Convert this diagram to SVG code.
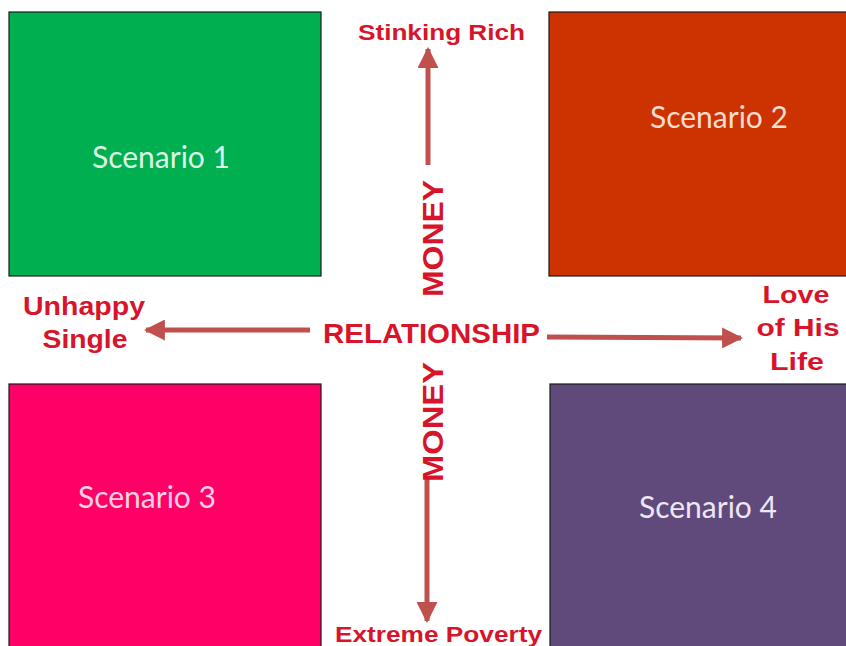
<svg xmlns="http://www.w3.org/2000/svg" width="846" height="646" viewBox="0 0 846 646">
  <style>
    .box { stroke: #1a1a1a; stroke-width: 1.2; }
    .scen { font-family: Lato, "Open Sans", "Liberation Sans", sans-serif; font-size: 30px; text-anchor: middle; }
    .lbl { font-family: "Liberation Sans", Arial, sans-serif; font-weight: bold; fill: #D8142A; text-anchor: middle; }
    .axis { stroke: #C0504D; stroke-width: 5; fill: none; }
  </style>
  <defs>
    <marker id="head" viewBox="0 0 10 10" refX="9" refY="5" markerWidth="4.2" markerHeight="4.2" orient="auto" markerUnits="strokeWidth">
      <path d="M0,0 L10,5 L0,10 Z" fill="#C0504D"/>
    </marker>
  </defs>
  <rect width="846" height="646" fill="#ffffff"/>

  <!-- quadrant boxes -->
  <g id="scenario1">
    <rect class="box" x="9" y="12" width="312" height="264" fill="#00B050"/>
    <text class="scen" x="161" y="168" fill="#DDF5E6">Scenario 1</text>
  </g>
  <g id="scenario2">
    <rect class="box" x="549" y="12" width="300" height="264" fill="#CC3300"/>
    <text class="scen" x="719" y="128" fill="#F8DCCF">Scenario 2</text>
  </g>
  <g id="scenario3">
    <rect class="box" x="9" y="384" width="312" height="266" fill="#FF0066"/>
    <text class="scen" x="147" y="508" fill="#FCD2E4">Scenario 3</text>
  </g>
  <g id="scenario4">
    <rect class="box" x="550" y="384" width="300" height="266" fill="#604A7B"/>
    <text class="scen" x="708" y="518" fill="#EDE6F4">Scenario 4</text>
  </g>

  <!-- axes -->
  <g id="connectors">
    <line class="axis" x1="428" y1="165" x2="428" y2="49" marker-end="url(#head)"/>
    <line class="axis" x1="427" y1="478" x2="427" y2="621" marker-end="url(#head)"/>
    <line class="axis" x1="310" y1="330" x2="146" y2="330" marker-end="url(#head)"/>
    <line class="axis" x1="547" y1="337" x2="741" y2="338" marker-end="url(#head)"/>
  </g>

  <!-- axis labels -->
  <g id="center">
    <text class="lbl" x="431.5" y="343" font-size="28" textLength="217" lengthAdjust="spacingAndGlyphs">RELATIONSHIP</text>
    <text class="lbl" font-size="29" transform="translate(443,238.5) rotate(-90)" textLength="117" lengthAdjust="spacingAndGlyphs">MONEY</text>
    <text class="lbl" font-size="29" transform="translate(443,422) rotate(-90)" textLength="120" lengthAdjust="spacingAndGlyphs">MONEY</text>
  </g>
  <g id="top-label">
    <text class="lbl" x="441.5" y="40" font-size="22" textLength="167" lengthAdjust="spacingAndGlyphs">Stinking Rich</text>
  </g>
  <g id="bottom-label">
    <text class="lbl" x="438.5" y="642" font-size="22" textLength="207" lengthAdjust="spacingAndGlyphs">Extreme Poverty</text>
  </g>
  <g id="left-label">
    <text class="lbl" x="84" y="315" font-size="25" textLength="122" lengthAdjust="spacingAndGlyphs">Unhappy</text>
    <text class="lbl" x="85" y="348" font-size="25" textLength="85" lengthAdjust="spacingAndGlyphs">Single</text>
  </g>
  <g id="right-label">
    <text class="lbl" x="796" y="303" font-size="23" textLength="67" lengthAdjust="spacingAndGlyphs">Love</text>
    <text class="lbl" x="798" y="336" font-size="23" textLength="83" lengthAdjust="spacingAndGlyphs">of His</text>
    <text class="lbl" x="797" y="370" font-size="23" textLength="54" lengthAdjust="spacingAndGlyphs">Life</text>
  </g>
</svg>
